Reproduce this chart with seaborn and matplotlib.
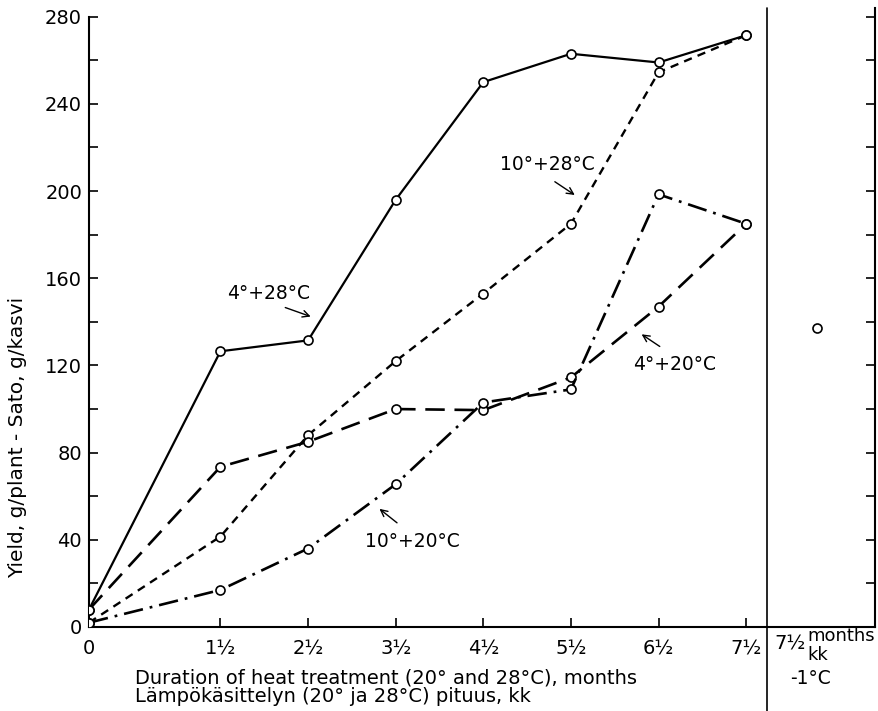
import matplotlib
matplotlib.use("Agg")
import matplotlib.pyplot as plt
import pandas as pd
import seaborn as sns

# Duration of heat treatment (months) and yield per plant (g) for each temperature regime
months = [0, 1.5, 2.5, 3.5, 4.5, 5.5, 6.5, 7.5]
month_labels = ["0", "1½", "2½", "3½", "4½", "5½", "6½", "7½"]
yield_4_28 = [8, 126.5, 131.5, 196, 250, 263, 259, 271.5]
yield_10_28 = [2, 41.5, 88, 122, 153, 185, 254.5, 271.5]
yield_4_20 = [8, 73.5, 85, 100, 99.5, 114.5, 147, 185]
yield_10_20 = [2, 17, 36, 65.5, 103, 109, 198.5, 185]
# 7½ months at -1 °C (separate panel on the right)
cold_yield = [137]

y_major = list(range(0, 281, 40))
y_minor = list(range(20, 281, 40))

sns.set_theme(style="ticks")
plt.rcParams["font.family"] = ["DejaVu Sans"]
plt.rcParams["lines.scale_dashes"] = False
plt.rcParams["text.color"] = "black"

W, H = 879, 711
fig = plt.figure(figsize=(W / 100, H / 100), dpi=100)
ax = fig.add_axes([89 / W, 1 - 627 / H, (875 - 89) / W, (627 - 8) / H])


def fpos(x, y):
    return x / W, 1 - y / H


series = [
    (yield_4_28, "-", 1.6),
    (yield_10_28, (0, (6, 4.5)), 1.7),
    (yield_4_20, (0, (14, 7)), 1.9),
    (yield_10_20, (0, (14, 5, 2, 5)), 1.9),
]
for vals, ls, lw in series:
    df = pd.DataFrame({"months": months, "yield": vals})
    sns.lineplot(data=df, x="months", y="yield", ax=ax, color="black",
                 linestyle=ls, lw=lw, marker="o", markersize=6.5,
                 markerfacecolor="white", markeredgecolor="black",
                 markeredgewidth=1.2, errorbar=None, zorder=3)

# cold storage panel
cold_x = 8.31
sns.scatterplot(x=[cold_x], y=cold_yield, ax=ax, marker="o", s=42,
                facecolor="white", edgecolor="black", linewidth=1.2, zorder=3)

ax.set_xlim(0, 8.97)
ax.set_ylim(0, 284)
ax.set_xticks(months)
ax.set_xticklabels(month_labels)
ax.set_yticks(y_major)
ax.set_yticks(y_minor, minor=True)
ax.set_xlabel("")
ax.set_ylabel("")
ax.tick_params(axis="both", which="both", direction="in", length=6.5,
               width=1.2, labelsize=14, colors="black")
ax.tick_params(axis="y", which="both", left=True, right=True, pad=5)
ax.tick_params(axis="x", pad=9)

for side in ["left", "bottom", "right"]:
    ax.spines[side].set_linewidth(1.5)
    ax.spines[side].set_color("black")
ax.spines["top"].set_visible(False)
ax.spines["left"].set_bounds(0, 280)

# divider between heat-treatment panel and cold-storage panel
ax.axvline(7.74, ymin=-0.136, ymax=1, color="black", lw=1.2, clip_on=False)

# series labels with arrows
labels = [
    ("4°+28°C", (2.05, 153), (2.21, 147), (2.56, 142)),
    ("10°+28°C", (5.23, 212), (5.29, 205), (5.57, 197.5)),
    ("4°+20°C", (6.68, 120.5), (6.54, 128), (6.28, 135)),
    ("10°+20°C", (3.69, 39), (3.54, 47), (3.29, 55)),
]
for text, tpos, tail, head in labels:
    ax.text(*tpos, text, ha="center", va="center", fontsize=13.5,
            color="black")
    ax.annotate("", xy=head, xytext=tail,
                arrowprops=dict(arrowstyle="->", lw=1.0, color="black"))

# axis titles
fig.text(*fpos(18, 437), "Yield, g/plant - Sato, g/kasvi", rotation=90,
         ha="center", va="center", fontsize=14.5, color="black")
fig.text(*fpos(135, 678), "Duration of heat treatment (20° and 28°C), months",
         ha="left", va="center", fontsize=14, color="black")
fig.text(*fpos(135, 697), "Lämpökäsittelyn (20° ja 28°C) pituus, kk",
         ha="left", va="center", fontsize=14, color="black")

# cold-storage panel labels
fig.text(*fpos(774, 644), "7½", ha="left", va="center", fontsize=14,
         color="black")
fig.text(*fpos(807, 636), "months", ha="left", va="center", fontsize=13,
         color="black")
fig.text(*fpos(807, 655), "kk", ha="left", va="center", fontsize=13,
         color="black")
fig.text(*fpos(811, 678), "-1°C", ha="center", va="center", fontsize=13.5,
         color="black")

fig.savefig("out.png", dpi=100)
